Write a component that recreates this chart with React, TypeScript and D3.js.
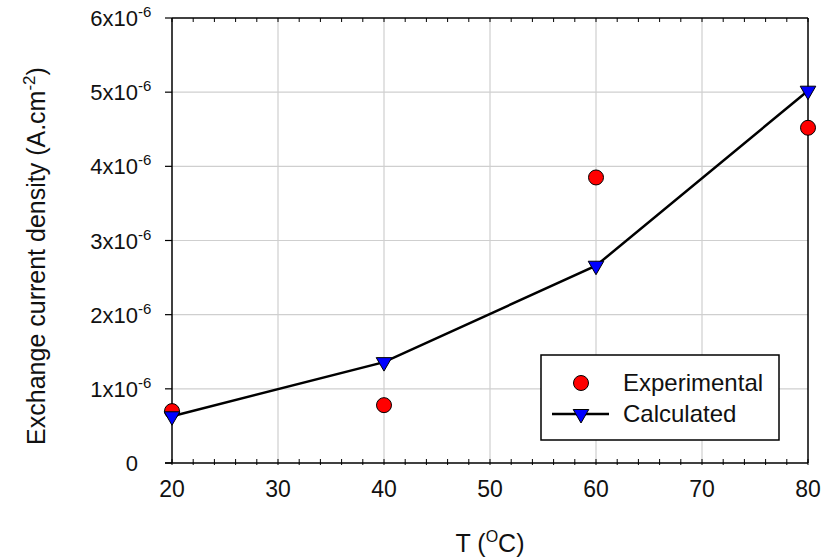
import React from "react";
import * as d3 from "d3";

const temps = [20, 40, 60, 80];
const experimental = [0.70e-6, 0.78e-6, 3.85e-6, 4.52e-6];
const calculated = [0.63e-6, 1.36e-6, 2.66e-6, 5.02e-6];
const xTicks = [20, 30, 40, 50, 60, 70, 80];
const xMinor = d3.range(20, 80.01, 2);
const yTicks = [0, 1e-6, 2e-6, 3e-6, 4e-6, 5e-6, 6e-6];
const yMantissa = ["0", "1x10", "2x10", "3x10", "4x10", "5x10", "6x10"];
const seriesNames = ["Experimental", "Calculated"];

const FONT = "Arial, 'Liberation Sans', sans-serif";

export default function App() {
  const W = 823, H = 560;
  const x = d3.scaleLinear().domain([20, 80]).range([172, 808]);
  const y = d3.scaleLinear().domain([0, 6e-6]).range([463, 18]);
  const [x0, x1] = x.range();
  const [y0, y1] = y.range();

  const line = d3.line<number>().x((_, i) => x(temps[i])).y((d) => y(d));
  const tri = d3.symbol().type(d3.symbolTriangle).size(105)();

  const gridColor = "#cfcfcf";

  return (
    <svg width={W} height={H} style={{ position: "absolute", left: 0, top: 0, background: "#fff" }}>
      <rect x={0} y={0} width={W} height={H} fill="#fff" />
      {/* grid */}
      {xTicks.slice(1, -1).map((t) => (
        <line key={"gx" + t} x1={x(t)} x2={x(t)} y1={y1} y2={y0} stroke={gridColor} strokeWidth={1.2} />
      ))}
      {yTicks.slice(1, -1).map((t) => (
        <line key={"gy" + t} x1={x0} x2={x1} y1={y(t)} y2={y(t)} stroke={gridColor} strokeWidth={1.2} />
      ))}
      {/* frame */}
      <line x1={x0 - 7} x2={x1} y1={y0} y2={y0} stroke="#000" strokeWidth={1.5} />
      <line x1={x0} x2={x0} y1={y0} y2={y1} stroke="#000" strokeWidth={1.5} />
      <line x1={x0} x2={x1} y1={y1} y2={y1} stroke="#000" strokeWidth={1.5} />
      <line x1={x1} x2={x1} y1={y1} y2={y0} stroke="#000" strokeWidth={1.5} />
      {/* x minor ticks bottom & top */}
      {xMinor.map((t) => (
        <g key={"mx" + t}>
          <line x1={x(t)} x2={x(t)} y1={y0 + 2} y2={y0 - 4} stroke="#000" strokeWidth={1} />
          <line x1={x(t)} x2={x(t)} y1={y1} y2={y1 + 4} stroke="#000" strokeWidth={1} />
        </g>
      ))}
      {/* y ticks */}
      {yTicks.map((t) => (
        <line key={"ty" + t} x1={x0 - 7} x2={x0} y1={y(t)} y2={y(t)} stroke="#000" strokeWidth={1.2} />
      ))}
      {/* x tick labels */}
      {xTicks.map((t) => (
        <text key={"lx" + t} x={x(t)} y={497} textAnchor="middle" fontFamily={FONT} fontSize={23} fill="#111">
          {t}
        </text>
      ))}
      {/* y tick labels */}
      {yTicks.map((t, i) => (
        <g key={"ly" + t}>
          <text x={138} y={y(t) + 8} textAnchor="end" fontFamily={FONT} fontSize={22} fill="#111">
            {yMantissa[i]}
          </text>
          {i > 0 && (
            <text x={138} y={y(t) - 1} textAnchor="start" fontFamily={FONT} fontSize={15} fill="#111">
              -6
            </text>
          )}
        </g>
      ))}
      {/* axis titles */}
      <text x={490} y={552} textAnchor="middle" fontFamily={FONT} fontSize={25} fill="#111">
        T (<tspan fontSize={16} dy={-10}>O</tspan><tspan dy={10}>C)</tspan>
      </text>
      <text
        transform="translate(45,256) rotate(-90)"
        textAnchor="middle"
        fontFamily={FONT}
        fontSize={25}
        fill="#111"
      >
        Exchange current density (A.cm<tspan fontSize={17} dy={-10}>-2</tspan><tspan dy={10}>)</tspan>
      </text>
      {/* calculated line */}
      <path d={line(calculated) || ""} fill="none" stroke="#000" strokeWidth={2.5} />
      {/* experimental */}
      {experimental.map((v, i) => (
        <circle key={"e" + i} cx={x(temps[i])} cy={y(v)} r={7.5} fill="#ff0000" stroke="#000" strokeWidth={1} />
      ))}
      {/* calculated markers */}
      {calculated.map((v, i) => (
        <path key={"c" + i} d={tri || ""} transform={`translate(${x(temps[i])},${y(v)}) rotate(180)`} fill="#0000ff" stroke="#000" strokeWidth={1} />
      ))}
      {/* legend */}
      <rect x={541} y={355} width={238} height={85} fill="#fff" stroke="#000" strokeWidth={1.5} />
      <circle cx={581} cy={383} r={7.5} fill="#ff0000" stroke="#000" strokeWidth={1} />
      <text x={623} y={391} fontFamily={FONT} fontSize={24} fill="#111">{seriesNames[0]}</text>
      <line x1={552} x2={609} y1={414} y2={414} stroke="#000" strokeWidth={2.5} />
      <path d={tri || ""} transform="translate(581,414) rotate(180)" fill="#0000ff" stroke="#000" strokeWidth={1} />
      <text x={623} y={422} fontFamily={FONT} fontSize={24} fill="#111">{seriesNames[1]}</text>
    </svg>
  );
}
